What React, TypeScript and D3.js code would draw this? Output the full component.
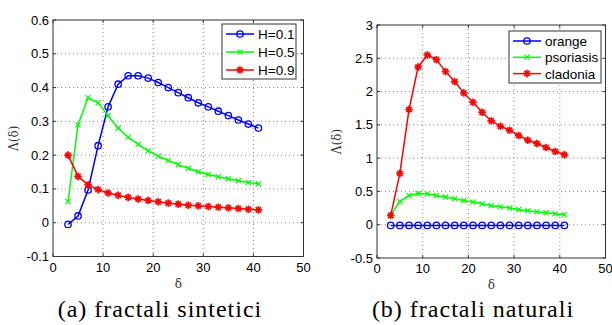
import React from "react";
import * as d3 from "d3";

const deltas = [3, 5, 7, 9, 11, 13, 15, 17, 19, 21, 23, 25, 27, 29, 31, 33, 35, 37, 39, 41];

const h01 = [-0.005, 0.02, 0.097, 0.228, 0.343, 0.41, 0.435, 0.435, 0.428, 0.415, 0.4, 0.385, 0.37, 0.355, 0.343, 0.33, 0.317, 0.304, 0.292, 0.28];
const h05 = [0.063, 0.29, 0.37, 0.355, 0.317, 0.28, 0.253, 0.232, 0.213, 0.197, 0.184, 0.172, 0.161, 0.151, 0.143, 0.136, 0.13, 0.124, 0.119, 0.115];
const h09 = [0.2, 0.137, 0.112, 0.098, 0.088, 0.081, 0.075, 0.07, 0.066, 0.062, 0.058, 0.055, 0.052, 0.05, 0.048, 0.046, 0.044, 0.042, 0.04, 0.038];

const orange = [-0.01, -0.01, -0.01, -0.01, -0.01, -0.01, -0.01, -0.01, -0.01, -0.01, -0.01, -0.01, -0.01, -0.01, -0.01, -0.01, -0.01, -0.01, -0.01, -0.01];
const psoriasis = [0.14, 0.35, 0.44, 0.47, 0.465, 0.44, 0.415, 0.39, 0.365, 0.34, 0.315, 0.29, 0.27, 0.25, 0.23, 0.21, 0.195, 0.18, 0.165, 0.15];
const cladonia = [0.14, 0.77, 1.73, 2.37, 2.55, 2.48, 2.3, 2.15, 1.98, 1.84, 1.69, 1.56, 1.48, 1.42, 1.34, 1.27, 1.22, 1.16, 1.1, 1.05];

const xTicks = [0, 10, 20, 30, 40, 50];
const yTicksA = [-0.1, 0, 0.1, 0.2, 0.3, 0.4, 0.5, 0.6];
const yTicksB = [-0.5, 0, 0.5, 1, 1.5, 2, 2.5, 3];

const legendA = ["H=0.1", "H=0.5", "H=0.9"];
const legendB = ["orange", "psoriasis", "cladonia"];

type Marker = "o" | "x" | "*";
const colors = ["#0000ff", "#00ff00", "#ff0000"];
const markers: Marker[] = ["o", "x", "*"];

const FONT = "'Liberation Sans', Arial, sans-serif";

function MarkerShape({ type, x, y, color }: { type: Marker; x: number; y: number; color: string }) {
  if (type === "o") return <circle cx={x} cy={y} r={3.2} fill="none" stroke={color} strokeWidth={1.3} />;
  const s = 2.6;
  if (type === "x")
    return (
      <g stroke={color} strokeWidth={1.2}>
        <line x1={x - s} y1={y - s} x2={x + s} y2={y + s} />
        <line x1={x - s} y1={y + s} x2={x + s} y2={y - s} />
      </g>
    );
  const t = 3.8;
  return (
    <g stroke={color} strokeWidth={1.7}>
      <line x1={x - t} y1={y} x2={x + t} y2={y} />
      <line x1={x} y1={y - t} x2={x} y2={y + t} />
      <line x1={x - t * 0.7} y1={y - t * 0.7} x2={x + t * 0.7} y2={y + t * 0.7} />
      <line x1={x - t * 0.7} y1={y + t * 0.7} x2={x + t * 0.7} y2={y - t * 0.7} />
    </g>
  );
}

function Panel(props: {
  left: number; right: number; top: number; bottom: number;
  yDomain: [number, number]; yTicks: number[]; series: number[][];
  legend: string[]; legBox: { x: number; y: number; w: number; h: number; dy: number };
  yLabelX: number; caption: string; captionX: number;
}) {
  const { left, right, top, bottom, yDomain, yTicks, series, legend, legBox } = props;
  const x = d3.scaleLinear().domain([0, 50]).range([left, right]);
  const y = d3.scaleLinear().domain(yDomain).range([bottom, top]);
  const line = d3.line<number>().x((_, i) => x(deltas[i])).y((d) => y(d));
  const fmt = (v: number) => String(Math.round(v * 10) / 10);
  return (
    <g>
      <rect x={left} y={top} width={right - left} height={bottom - top} fill="#fff" />
      {xTicks.slice(1, -1).map((t) => (
        <line key={"gx" + t} x1={x(t)} x2={x(t)} y1={top} y2={bottom} stroke="#888" strokeWidth={1} strokeDasharray="1,3" />
      ))}
      {yTicks.slice(1, -1).map((t) => (
        <line key={"gy" + t} x1={left} x2={right} y1={y(t)} y2={y(t)} stroke="#888" strokeWidth={1} strokeDasharray="1,3" />
      ))}
      {xTicks.map((t) => (
        <g key={"tx" + t}>
          <line x1={x(t)} x2={x(t)} y1={bottom} y2={bottom - 3} stroke="#333" />
          <line x1={x(t)} x2={x(t)} y1={top} y2={top + 3} stroke="#333" />
          <text x={x(t)} y={bottom + 15} textAnchor="middle" fontSize={13} fontFamily={FONT} fill="#000">{t}</text>
        </g>
      ))}
      {yTicks.map((t) => (
        <g key={"ty" + t}>
          <line x1={left} x2={left + 3} y1={y(t)} y2={y(t)} stroke="#333" />
          <line x1={right} x2={right - 3} y1={y(t)} y2={y(t)} stroke="#333" />
          <text x={left - 4} y={y(t) + 4.5} textAnchor="end" fontSize={13} fontFamily={FONT} fill="#000">{fmt(t)}</text>
        </g>
      ))}
      <rect x={left} y={top} width={right - left} height={bottom - top} fill="none" stroke="#333" strokeWidth={1} />
      {series.map((s, k) => (
        <g key={"s" + k}>
          <path d={line(s) || ""} fill="none" stroke={colors[k]} strokeWidth={1.5} />
          {s.map((v, i) => (
            <MarkerShape key={i} type={markers[k]} x={x(deltas[i])} y={y(v)} color={colors[k]} />
          ))}
        </g>
      ))}
      <text x={(left + right) / 2} y={bottom + 31} textAnchor="middle" fontSize={12} fontFamily="'DejaVu Serif', serif" fill="#333">δ</text>
      <text transform={`translate(${props.yLabelX},${(top + bottom) / 2}) rotate(-90)`} textAnchor="middle" fontSize={12} fontFamily="'DejaVu Serif', serif" fill="#333">Λ(δ)</text>
      <rect x={legBox.x} y={legBox.y} width={legBox.w} height={legBox.h} fill="#fff" stroke="#333" strokeWidth={1} />
      {legend.map((lab, k) => {
        const ly = legBox.y + 10 + k * legBox.dy;
        const lx = legBox.x + 4;
        return (
          <g key={"l" + k}>
            <line x1={lx} x2={lx + 28} y1={ly} y2={ly} stroke={colors[k]} strokeWidth={1.5} />
            <MarkerShape type={markers[k]} x={lx + 14} y={ly} color={colors[k]} />
            <text x={lx + 32} y={ly + 5} fontSize={13.5} fontFamily={FONT} fill="#000">{lab}</text>
          </g>
        );
      })}
      <text x={props.captionX} y={317} textAnchor="middle" fontSize={24} letterSpacing={1} fontFamily="'Liberation Serif', serif" fill="#000">{props.caption}</text>
    </g>
  );
}

export default function App() {
  return (
    <svg width={612} height={325} style={{ position: "absolute", left: 0, top: 0, background: "#fff" }}>
      <rect width={612} height={325} fill="#fff" />
      <Panel left={53} right={303.5} top={20} bottom={256.5} yDomain={[-0.1, 0.6]} yTicks={yTicksA}
        series={[h01, h05, h09]} legend={legendA} legBox={{ x: 222, y: 24, w: 74, h: 55, dy: 18 }}
        yLabelX={18} caption="(a) fractali sintetici" captionX={160} />
      <Panel left={377} right={605.5} top={25} bottom={258} yDomain={[-0.5, 3]} yTicks={yTicksB}
        series={[orange, psoriasis, cladonia]} legend={legendB} legBox={{ x: 509, y: 31, w: 92, h: 52, dy: 16.3 }}
        yLabelX={341} caption="(b) fractali naturali" captionX={473} />
    </svg>
  );
}
